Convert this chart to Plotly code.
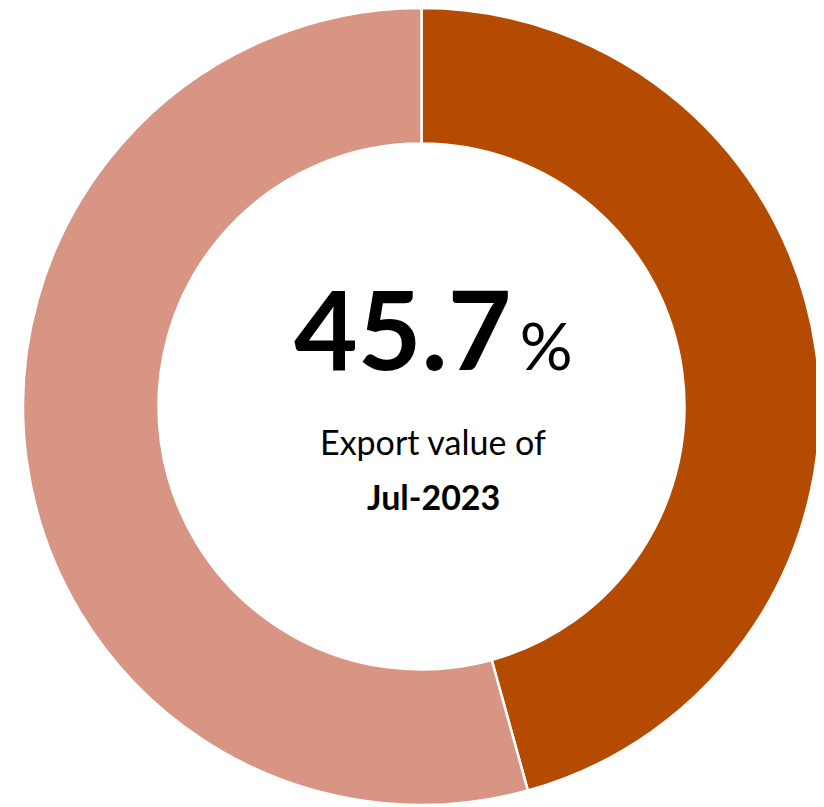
import plotly.graph_objects as go

labels = ["Jul-2023", "Other"]
values = [45.7, 54.3]
colors = ["#B54B00", "#D89584"]
share_label = "45.7"
caption_line1 = "Export value of"
caption_line2 = "Jul-2023"

W, H = 816, 799  # page body has an 8px margin

fig = go.Figure(go.Pie(
    labels=labels,
    values=values,
    hole=0.66,
    sort=False,
    direction="clockwise",
    rotation=0,
    textinfo="none",
    hoverinfo="label+percent",
    marker=dict(colors=colors, line=dict(color="white", width=2.5)),
    domain=dict(x=[14.5 / W, 812.5 / W], y=[1 - 797 / H, 1]),
    showlegend=False,
))

cx = 425 / W
fig.add_annotation(
    x=cx, y=1 - 319 / H, xref="paper", yref="paper",
    text=f"<b>{share_label}</b><span style='font-size:66px'>\u2009%</span>",
    showarrow=False, xanchor="center", yanchor="middle",
    font=dict(family="Lato", size=110, color="black"),
)
fig.add_annotation(
    x=cx, y=1 - 433 / H, xref="paper", yref="paper",
    text=caption_line1,
    showarrow=False, xanchor="center", yanchor="middle",
    font=dict(family="Lato", size=34, color="black"),
)
fig.add_annotation(
    x=cx, y=1 - 488 / H, xref="paper", yref="paper",
    text=f"<b>{caption_line2}</b>",
    showarrow=False, xanchor="center", yanchor="middle",
    font=dict(family="Lato", size=34, color="black"),
)

fig.update_layout(
    width=W, height=H,
    margin=dict(l=0, r=0, t=0, b=0),
    paper_bgcolor="white", plot_bgcolor="white",
)

fig.write_html("out.html")
